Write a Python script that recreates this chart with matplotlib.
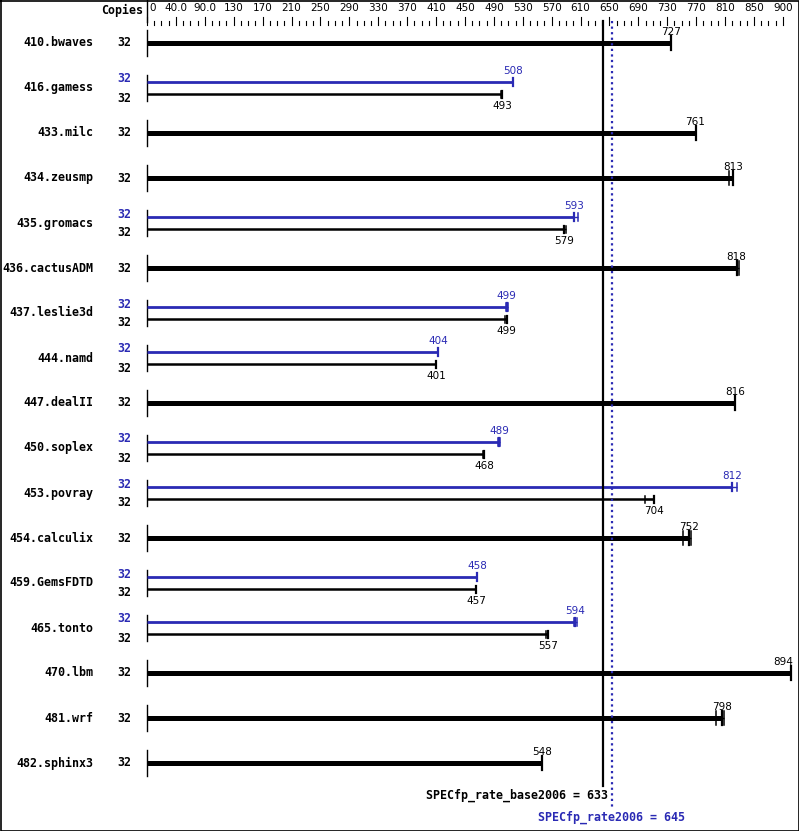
import matplotlib
matplotlib.use('Agg')
import matplotlib.pyplot as plt

# benchmark names and results (base always shown, peak only where it differs)
names = ['410.bwaves', '416.gamess', '433.milc', '434.zeusmp', '435.gromacs',
         '436.cactusADM', '437.leslie3d', '444.namd', '447.dealII', '450.soplex',
         '453.povray', '454.calculix', '459.GemsFDTD', '465.tonto', '470.lbm',
         '481.wrf', '482.sphinx3']
copies = [32] * 17
base = [727, 493, 761, 813, 579, 818, 499, 401, 816, 468, 704, 752, 457, 557, 894, 798, 548]
peak = [None, 508, None, None, 593, None, 499, 404, None, 489, 812, None, 458, 594, None, None, None]

# individual runs (small tick marks at the bar ends)
base_runs = [[727], [491, 493], [761], [808, 813], [579, 581], [818, 822], [496, 499],
             [401], [816], [466, 468], [691, 704], [744, 752, 755], [457], [554, 557],
             [894], [790, 798, 801], [548]]
peak_runs = [None, [508], None, None, [593, 598], None, [498, 501], [404], None,
             [487, 490], [812, 819], None, [458], [592, 596], None, None, None]

tick_labels = ['0', '40.0', '90.0', '130', '170', '210', '250', '290', '330', '370',
               '410', '450', '490', '530', '570', '610', '650', '690', '730', '770',
               '810', '850', '900']
tick_step = 40.1

base_mean = 633
peak_mean = 645
blue = '#2a2ab4'

# pixel layout
W, H = 799, 831
x0 = 147          # pixel of value 0
k = 0.7208        # pixels per unit
row0, row_gap = 43, 45


def px(p):
    return (p - x0) / k


fig = plt.figure(figsize=(W / 100, H / 100), dpi=100)
ax = fig.add_axes([0, 0, 1, 1])
ax.set_xlim(px(0), px(W))
ax.set_ylim(H, 0)
ax.axis('off')

mono = 'DejaVu Sans Mono'

# header
ax.text(px(143), 10, 'Copies', ha='right', va='center', fontsize=8.4,
        family=mono, weight='bold')
ax.plot([0, 0], [0, 22], color='black', lw=1)
for i, lab in enumerate(tick_labels):
    v = i * tick_step
    ax.text(v if i > 0 else 3, 8, lab, ha='center' if i > 0 else 'left',
            va='center', fontsize=7.5, color='black')
    ax.plot([v, v], [17, 25], color='black', lw=0.8)
    if i < len(tick_labels) - 1:
        for j in range(1, 4):
            m = v + j * tick_step / 4
            ax.plot([m, m], [21, 25], color='black', lw=0.8)


def draw_bar(y, val, runs, color, lw, th, label_dy):
    top = max(runs)
    ax.plot([0, val], [y, y], color=color, lw=lw, solid_capstyle='butt')
    if top > val or min(runs) < val:
        ax.plot([min(runs), top], [y, y], color=color, lw=1, solid_capstyle='butt')
    for r in runs:
        ax.plot([r, r], [y - th, y + th], color=color, lw=1.1)
    ax.plot([val, val], [y - th, y + th], color=color, lw=1.6)
    ax.text(min(val, px(783)), y + label_dy, str(val), ha='center', va='center',
            fontsize=7.5, color=color)


for i, name in enumerate(names):
    y = row0 + i * row_gap
    ax.text(px(93), y, name, ha='right', va='center', fontsize=8.4,
            family=mono, weight='bold')
    ax.plot([0, 0], [y - 13, y + 13], color='black', lw=1)
    if peak[i] is None:
        ax.text(px(131), y, str(copies[i]), ha='right', va='center',
                fontsize=8.4, family=mono, weight='bold')
        draw_bar(y, base[i], base_runs[i], 'black', 3.6, 7, -11)
    else:
        ax.text(px(131), y - 9, str(copies[i]), ha='right', va='center',
                fontsize=8.4, family=mono, weight='bold', color=blue)
        ax.text(px(131), y + 10, str(copies[i]), ha='right', va='center',
                fontsize=8.4, family=mono, weight='bold')
        draw_bar(y - 6, peak[i], peak_runs[i], blue, 2.0, 4, -11)
        draw_bar(y + 6, base[i], base_runs[i], 'black', 1.8, 3.5, 12)

# overall means
ax.plot([base_mean, base_mean], [21, 786], color='black', lw=1.6)
ax.plot([peak_mean, peak_mean], [21, 807], color=blue, lw=1.6, ls=(0, (1, 1.5)))
ax.text(px(608), 795, 'SPECfp_rate_base2006 = %d' % base_mean, ha='right',
        va='center', fontsize=8.4, family=mono, weight='bold')
ax.text(peak_mean, 817, 'SPECfp_rate2006 = %d' % peak_mean, ha='center',
        va='center', fontsize=8.4, family=mono, weight='bold', color=blue)

# frame
ax.plot([px(0.5), px(798.5), px(798.5), px(0.5), px(0.5)],
        [0.5, 0.5, 830.5, 830.5, 0.5], color='black', lw=1.2, clip_on=False)

fig.savefig('out.png', dpi=100)
